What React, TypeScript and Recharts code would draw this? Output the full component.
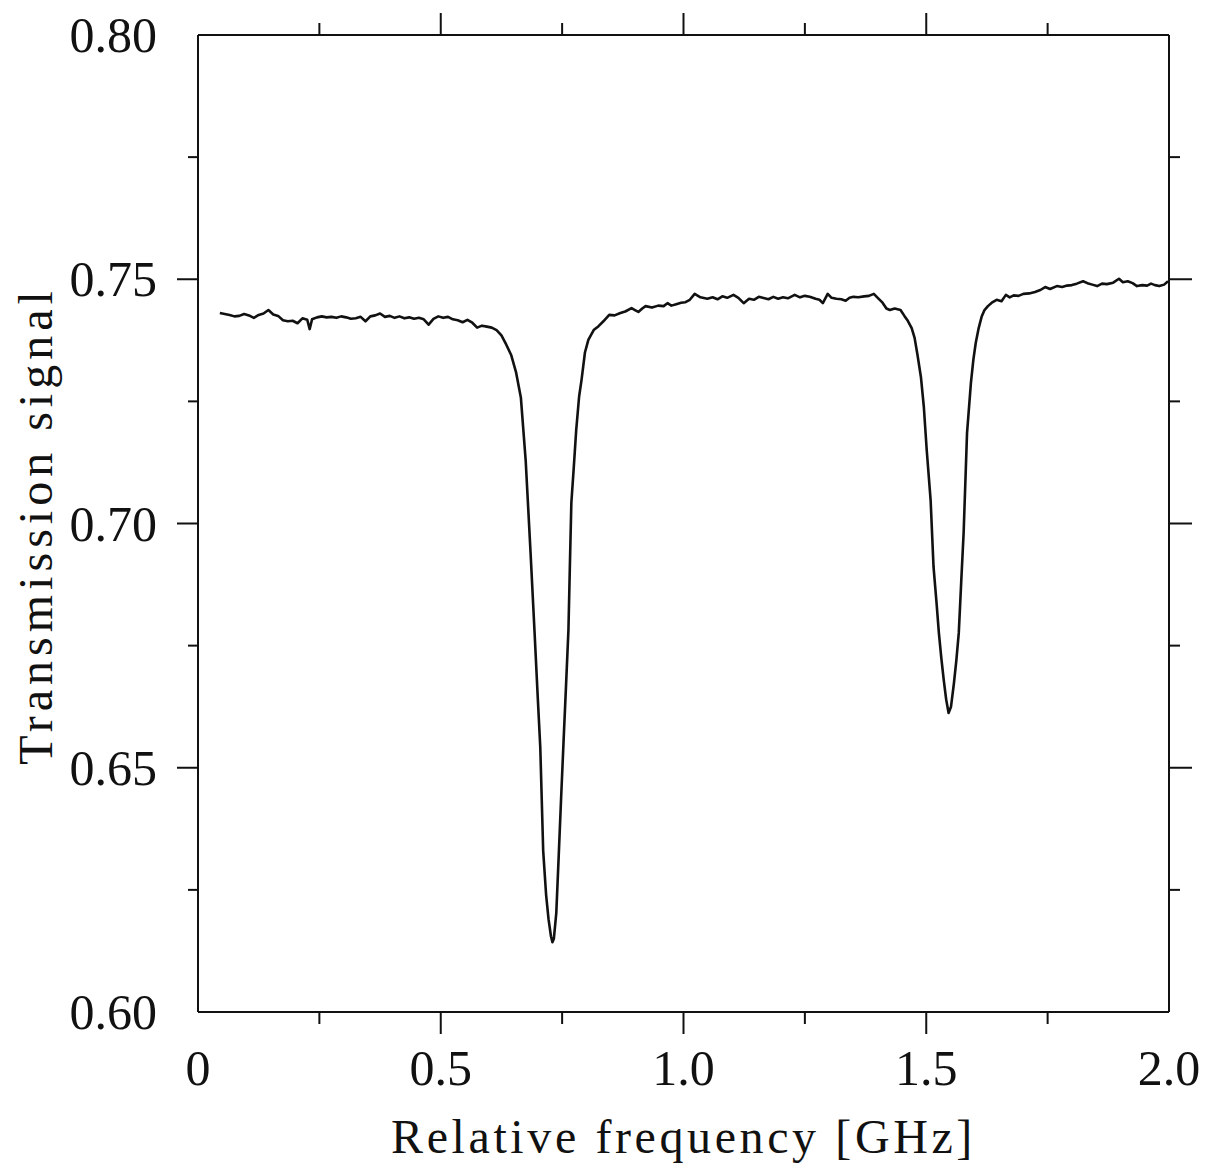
import React from "react"
import { LineChart, Line, XAxis, YAxis } from "recharts"

// frequency in GHz
const FREQ = [
    0.045, 0.055, 0.065, 0.075, 0.085, 0.095, 0.105, 0.115, 0.125, 0.135,
    0.145, 0.155, 0.165, 0.175, 0.185, 0.195, 0.205, 0.215, 0.225, 0.23,
    0.235, 0.245, 0.255, 0.265, 0.275, 0.285, 0.295, 0.305, 0.315, 0.325,
    0.335, 0.345, 0.355, 0.365, 0.375, 0.385, 0.395, 0.405, 0.415, 0.425,
    0.435, 0.445, 0.455, 0.465, 0.475, 0.485, 0.495, 0.505, 0.515, 0.525,
    0.535, 0.545, 0.555, 0.565, 0.575, 0.585, 0.595, 0.605, 0.615, 0.625,
    0.635, 0.645, 0.655, 0.665, 0.675, 0.685, 0.693, 0.7, 0.705, 0.711,
    0.717, 0.722, 0.727, 0.73, 0.733, 0.738, 0.743, 0.748, 0.753, 0.758,
    0.763, 0.766, 0.769, 0.774, 0.779, 0.785, 0.79, 0.797, 0.804, 0.815, 0.825,
    0.835, 0.847, 0.858, 0.87, 0.88, 0.893, 0.9, 0.907, 0.915, 0.922,
    0.935, 0.948, 0.959, 0.967, 0.975, 0.985, 0.995, 1.004, 1.013, 1.023,
    1.035, 1.049, 1.06, 1.07, 1.08, 1.09, 1.103, 1.113, 1.124, 1.135,
    1.145, 1.155, 1.163, 1.175, 1.185, 1.195, 1.205, 1.215, 1.229, 1.24,
    1.25, 1.26, 1.272, 1.28, 1.287, 1.297, 1.305, 1.315, 1.325, 1.334,
    1.342, 1.35, 1.36, 1.372, 1.382, 1.392, 1.4, 1.41, 1.418, 1.425,
    1.435, 1.447, 1.455, 1.462, 1.47, 1.476, 1.482, 1.489, 1.495, 1.501,
    1.509, 1.515, 1.521, 1.526, 1.531, 1.536, 1.541, 1.546, 1.551, 1.557,
    1.562, 1.567, 1.572, 1.577, 1.584, 1.592, 1.597, 1.602, 1.608, 1.614,
    1.62, 1.627, 1.635, 1.645, 1.655, 1.664, 1.672, 1.68, 1.69, 1.7,
    1.712, 1.724, 1.735, 1.745, 1.755, 1.769, 1.78, 1.79, 1.8, 1.81,
    1.823, 1.832, 1.842, 1.852, 1.862, 1.872, 1.885, 1.897, 1.905, 1.915,
    1.925, 1.934, 1.945, 1.955, 1.963, 1.971, 1.98, 1.99, 1.998
]

// transmission signal at each frequency
const SIGNAL = [
    0.7431, 0.7429, 0.7427, 0.7424, 0.7425, 0.7429, 0.7426, 0.7421, 0.7427, 0.743,
    0.7437, 0.7428, 0.7425, 0.7416, 0.7414, 0.7415, 0.741, 0.742, 0.7417, 0.7398,
    0.7418, 0.7422, 0.7424, 0.7422, 0.7423, 0.7421, 0.7424, 0.7422, 0.7419, 0.742,
    0.7423, 0.7414, 0.7424, 0.7426, 0.743, 0.7423, 0.7425, 0.7421, 0.7424, 0.742,
    0.7422, 0.7419, 0.7421, 0.7418, 0.7407, 0.7419, 0.7424, 0.7421, 0.7423, 0.7418,
    0.7416, 0.7412, 0.7417, 0.7411, 0.7401, 0.7405, 0.7403, 0.7401, 0.7396, 0.7385,
    0.7366, 0.7345, 0.731, 0.7258, 0.7128, 0.694, 0.6782, 0.664, 0.6542, 0.633,
    0.624, 0.619, 0.6155, 0.6143, 0.615, 0.6203, 0.632, 0.644, 0.6555, 0.6667,
    0.6782, 0.6915, 0.7042, 0.7115, 0.7191, 0.726, 0.7294, 0.735, 0.7376, 0.7396, 0.7404,
    0.7414, 0.7427, 0.7426, 0.7431, 0.7434, 0.7441, 0.7437, 0.7433, 0.744, 0.7445,
    0.7442, 0.7446, 0.7445, 0.7451, 0.7446, 0.7449, 0.7452, 0.7453, 0.7458, 0.747,
    0.7463, 0.746, 0.7463, 0.7459, 0.7465, 0.7462, 0.7468, 0.7462, 0.7451, 0.746,
    0.7458, 0.7464, 0.7462, 0.7459, 0.7464, 0.746, 0.7463, 0.7461, 0.7468, 0.7463,
    0.7466, 0.7464, 0.746, 0.7458, 0.7451, 0.747, 0.7462, 0.746, 0.7459, 0.7456,
    0.7462, 0.7464, 0.7463, 0.7465, 0.7466, 0.747, 0.7462, 0.7452, 0.744, 0.7437,
    0.744, 0.7437, 0.7425, 0.7415, 0.74, 0.738, 0.7345, 0.73, 0.7239, 0.715,
    0.7048, 0.6911, 0.684, 0.6776, 0.6725, 0.668, 0.664, 0.6612, 0.6625, 0.6673,
    0.672, 0.6776, 0.688, 0.6981, 0.7185, 0.7288, 0.7335, 0.737, 0.74, 0.7423,
    0.7437, 0.7445, 0.7452, 0.7458, 0.7455, 0.7468, 0.7463, 0.7467, 0.7466, 0.747,
    0.7471, 0.7474, 0.7478, 0.7484, 0.748, 0.7486, 0.7484, 0.7487, 0.7488, 0.7491,
    0.7496, 0.7492, 0.7489, 0.7486, 0.7491, 0.749, 0.7493, 0.7501, 0.7494, 0.7496,
    0.7492, 0.7486, 0.7488, 0.7487, 0.7491, 0.7488, 0.7486, 0.7489, 0.7496
]

const X_TICKS = [0, 0.25, 0.5, 0.75, 1.0, 1.25, 1.5, 1.75, 2.0]
const X_LABELS: Record<string, string> = { "0": "0", "0.5": "0.5", "1": "1.0", "1.5": "1.5", "2": "2.0" }
const Y_TICKS = [0.6, 0.625, 0.65, 0.675, 0.7, 0.725, 0.75, 0.775, 0.8]
const Y_LABELS: Record<string, string> = { "0.6": "0.60", "0.65": "0.65", "0.7": "0.70", "0.75": "0.75", "0.8": "0.80" }

const FONT = "'Liberation Serif', 'DejaVu Serif', serif"
const INK = "#111"

const data = FREQ.map((f, i) => ({ freq: f, signal: SIGNAL[i] }))

// the frame corners carry no tick marks
const isEnd = (v: number, lo: number, hi: number) => v === lo || v === hi

const BottomTick = ({ x, y, payload }: any) => {
    const label = X_LABELS[String(payload.value)]
    return (
        <g>
            {!isEnd(payload.value, 0, 2) && (
                <line x1={x} x2={x} y1={y} y2={y + (label ? 22 : 12)} stroke={INK} strokeWidth={2} />
            )}
            {label && (
                <text x={x} y={y + 73} textAnchor="middle" fontFamily={FONT} fontSize={50} fill={INK}>
                    {label}
                </text>
            )}
        </g>
    )
}

const TopTick = ({ x, y, payload }: any) => {
    if (isEnd(payload.value, 0, 2)) return <g />
    const major = X_LABELS[String(payload.value)]
    return <line x1={x} x2={x} y1={y} y2={y - (major ? 22 : 12)} stroke={INK} strokeWidth={2} />
}

const LeftTick = ({ x, y, payload }: any) => {
    const label = Y_LABELS[String(payload.value)]
    return (
        <g>
            {!isEnd(payload.value, 0.6, 0.8) && (
                <line x1={x} x2={x - (label ? 21 : 10)} y1={y} y2={y} stroke={INK} strokeWidth={2} />
            )}
            {label && (
                <text x={x - 41} y={y + 17} textAnchor="end" fontFamily={FONT} fontSize={50} fill={INK}>
                    {label}
                </text>
            )}
        </g>
    )
}

const RightTick = ({ x, y, payload }: any) => {
    if (isEnd(payload.value, 0.6, 0.8)) return <g />
    const major = Y_LABELS[String(payload.value)]
    return <line x1={x} x2={x + (major ? 23 : 11)} y1={y} y2={y} stroke={INK} strokeWidth={2} />
}

const XTitle = ({ viewBox }: any) => (
    <text
        x={viewBox.x + viewBox.width / 2}
        y={viewBox.y + 141}
        textAnchor="middle"
        fontFamily={FONT}
        fontSize={48}
        letterSpacing={3.6}
        fill={INK}
    >
        Relative frequency [GHz]
    </text>
)

const YTitle = ({ viewBox }: any) => {
    const cx = viewBox.x + 52
    const cy = viewBox.y + viewBox.height / 2 + 2
    return (
        <text
            x={cx}
            y={cy}
            transform={`rotate(-90 ${cx} ${cy})`}
            textAnchor="middle"
            fontFamily={FONT}
            fontSize={48}
            letterSpacing={5}
            fill={INK}
        >
            Transmission signal
        </text>
    )
}

export default function App() {
    return (
        <div style={{ position: "absolute", left: 0, top: 0, background: "#fff" }}>
            <LineChart width={1209} height={1171} data={data} margin={{ top: 0, right: 0, bottom: 0, left: 0 }}>

                <XAxis
                    xAxisId="b"
                    dataKey="freq"
                    type="number"
                    domain={[0, 2]}
                    ticks={X_TICKS}
                    interval={0}
                    height={159}
                    tickSize={0}
                    tickMargin={0}
                    tickLine={false}
                    tick={<BottomTick />}
                    axisLine={{ stroke: INK, strokeWidth: 2 }}
                    label={<XTitle />}
                />
                <XAxis
                    xAxisId="t"
                    orientation="top"
                    dataKey="freq"
                    type="number"
                    domain={[0, 2]}
                    ticks={X_TICKS}
                    interval={0}
                    height={35}
                    tickSize={0}
                    tickMargin={0}
                    tickLine={false}
                    tick={<TopTick />}
                    axisLine={{ stroke: INK, strokeWidth: 2 }}
                />
                <YAxis
                    yAxisId="l"
                    type="number"
                    domain={[0.6, 0.8]}
                    ticks={Y_TICKS}
                    interval={0}
                    width={198}
                    tickSize={0}
                    tickMargin={0}
                    tickLine={false}
                    tick={<LeftTick />}
                    axisLine={{ stroke: INK, strokeWidth: 2 }}
                    label={<YTitle />}
                />
                <YAxis
                    yAxisId="r"
                    orientation="right"
                    type="number"
                    domain={[0.6, 0.8]}
                    ticks={Y_TICKS}
                    interval={0}
                    width={40}
                    tickSize={0}
                    tickMargin={0}
                    tickLine={false}
                    tick={<RightTick />}
                    axisLine={{ stroke: INK, strokeWidth: 2 }}
                />

                <Line
                    xAxisId="t"
                    yAxisId="r"
                    type="linear"
                    dataKey="signal"
                    stroke="none"
                    dot={false}
                    isAnimationActive={false}
                />
                <Line
                    xAxisId="b"
                    yAxisId="l"
                    type="linear"
                    dataKey="signal"
                    stroke={INK}
                    strokeWidth={2.6}
                    strokeLinejoin="round"
                    dot={false}
                    isAnimationActive={false}
                />

            </LineChart>
        </div>
    )
}
